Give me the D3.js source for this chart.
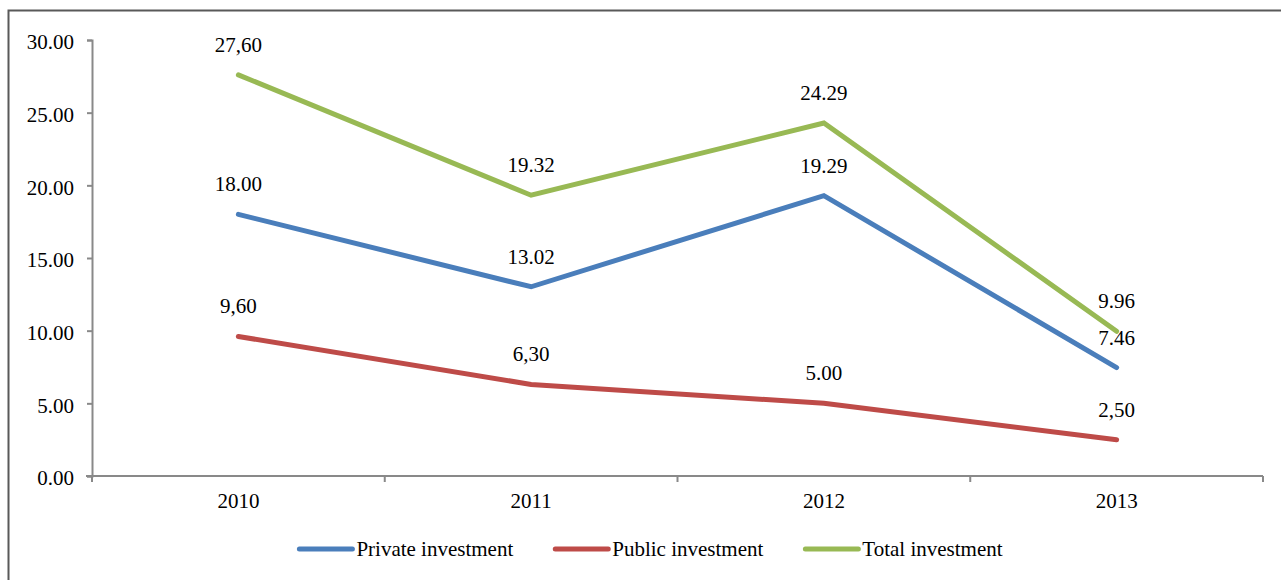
<!DOCTYPE html>
<html>
<head>
<meta charset="utf-8" />
<title>Investment</title>
<style>
body { margin: 0; background: #fff; }
svg { display: block; }
text { font-family: "Liberation Serif", "Times New Roman", serif; font-size: 21px; fill: #000; }
</style>
</head>
<body>
<div id="graph"></div>
<script src="https://d3js.org/d3.v7.min.js"></script>
<script>

var years = ["2010", "2011", "2012", "2013"];
var privateInv = [18.00, 13.02, 19.29, 7.46];
var publicInv = [9.60, 6.30, 5.00, 2.50];
var totalInv = [27.60, 19.32, 24.29, 9.96];
// labels as printed in the original (mixed decimal marks)
var privateLabels = ["18.00", "13.02", "19.29", "7.46"];
var publicLabels = ["9,60", "6,30", "5.00", "2,50"];
var totalLabels = ["27,60", "19.32", "24.29", "9.96"];
var seriesNames = ["Private investment", "Public investment", "Total investment"];
var yTicks = [0, 5, 10, 15, 20, 25, 30];

var width = 1281, height = 580;
var margin = {left: 92, right: 18, top: 40, bottom: 104};

var series = [
    {name: seriesNames[0], values: privateInv, labels: privateLabels, color: "#4a7ebb"},
    {name: seriesNames[1], values: publicInv, labels: publicLabels, color: "#be4b48"},
    {name: seriesNames[2], values: totalInv, labels: totalLabels, color: "#98b954"}
];

var svg = d3.select("#graph").append("svg")
    .attr("width", width)
    .attr("height", height);

// outer frame (right and bottom edges run off the page)
svg.append("rect")
    .attr("x", 8.5).attr("y", 10.5)
    .attr("width", width + 20).attr("height", height + 20)
    .attr("fill", "none")
    .attr("stroke", "#595959")
    .attr("stroke-width", 2);

var x = d3.scaleBand()
    .domain(years)
    .range([margin.left, width - margin.right]);

var y = d3.scaleLinear()
    .domain([0, 30])
    .range([height - margin.bottom, margin.top]);

var axisColor = "#898989";

// y axis
var yAxis = svg.append("g")
    .attr("transform", "translate(" + margin.left + ",0)")
    .call(d3.axisLeft(y).tickValues(yTicks).tickFormat(d3.format(".2f")).tickSize(5).tickPadding(13));
yAxis.select(".domain").attr("stroke", axisColor).attr("stroke-width", 2);
yAxis.selectAll(".tick line").attr("stroke", axisColor).attr("stroke-width", 2);
yAxis.selectAll(".tick text").attr("font-size", null).attr("font-family", null).attr("dy", "0.42em");

// x axis with ticks at band edges
var xAxisG = svg.append("g")
    .attr("transform", "translate(0," + y(0) + ")");
var edges = years.map(function(d) { return x(d); }).concat([x.range()[1]]);
xAxisG.append("line")
    .attr("x1", margin.left - 6).attr("x2", x.range()[1])
    .attr("stroke", axisColor).attr("stroke-width", 2);
xAxisG.selectAll(".xtick")
    .data(edges)
    .enter().append("line")
    .attr("class", "xtick")
    .attr("x1", function(d) { return d; }).attr("x2", function(d) { return d; })
    .attr("y1", 0).attr("y2", 6)
    .attr("stroke", axisColor).attr("stroke-width", 2);
xAxisG.selectAll(".xlabel")
    .data(years)
    .enter().append("text")
    .attr("class", "xlabel")
    .attr("x", function(d) { return x(d) + x.bandwidth() / 2; })
    .attr("y", 32)
    .attr("text-anchor", "middle")
    .text(function(d) { return d; });

var line = d3.line()
    .x(function(d, i) { return x(years[i]) + x.bandwidth() / 2; })
    .y(function(d) { return y(d); });

series.forEach(function(s) {
    svg.append("path")
        .datum(s.values)
        .attr("d", line)
        .attr("fill", "none")
        .attr("stroke", s.color)
        .attr("stroke-width", 5)
        .attr("stroke-linecap", "round")
        .attr("stroke-linejoin", "miter");
});

series.forEach(function(s) {
    svg.selectAll(null)
        .data(s.values)
        .enter().append("text")
        .attr("x", function(d, i) { return x(years[i]) + x.bandwidth() / 2; })
        .attr("y", function(d) { return y(d) - 23; })
        .attr("text-anchor", "middle")
        .text(function(d, i) { return s.labels[i]; });
});

// legend
var legend = svg.append("g").attr("class", "legend");
var cursor = 0;
series.forEach(function(s, i) {
    var item = legend.append("g").attr("transform", "translate(" + cursor + ",0)");
    item.append("line")
        .attr("x1", 2).attr("x2", 55)
        .attr("y1", 0).attr("y2", 0)
        .attr("stroke", s.color)
        .attr("stroke-width", 5)
        .attr("stroke-linecap", "round");
    var t = item.append("text")
        .attr("x", 59)
        .attr("y", 7)
        .text(s.name);
    cursor += 59 + t.node().getComputedTextLength() + 40;
});
var lw = cursor - 40;
legend.attr("transform", "translate(" + (650 - lw / 2) + ",549)");

</script>
</body>
</html>
